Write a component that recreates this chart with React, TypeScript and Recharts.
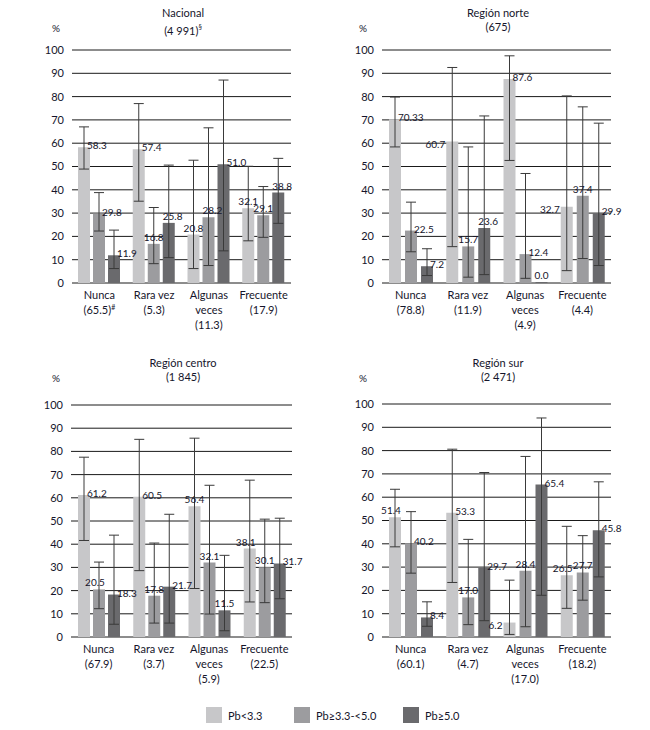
import { BarChart, Bar, XAxis, YAxis, CartesianGrid, ErrorBar, LabelList } from 'recharts'

const SERIES = ['Pb<3.3', 'Pb≥3.3-<5.0', 'Pb≥5.0']
const CATEGORIES = ['Nunca', 'Rara vez', 'Algunas veces', 'Frecuente']
const CATEGORY_LINES = [['Nunca'], ['Rara vez'], ['Algunas', 'veces'], ['Frecuente']]
const Y_TICKS = [0, 10, 20, 30, 40, 50, 60, 70, 80, 90, 100]

// Nacional (4 991)
const NACIONAL_SHARE = ['65.5', '5.3', '11.3', '17.9']
const NACIONAL_VALUES = [
  [58.3, 57.4, 20.8, 32.1],
  [29.8, 16.8, 28.2, 29.1],
  [11.9, 25.8, 51.0, 38.8],
]
const NACIONAL_CI_LOW = [
  [48.9, 35.1, 6.2, 18.1],
  [22.3, 8.3, 7.5, 19.6],
  [6.2, 10.9, 13.8, 25.6],
]
const NACIONAL_CI_HIGH = [
  [67.0, 77.0, 52.7, 50.1],
  [38.8, 32.4, 66.6, 41.4],
  [22.7, 50.6, 87.1, 53.5],
]

// Región norte (675)
const NORTE_SHARE = ['78.8', '11.9', '4.9', '4.4']
const NORTE_VALUES = [
  [70.33, 60.7, 87.6, 32.7],
  [22.5, 15.7, 12.4, 37.4],
  [7.2, 23.6, 0.0, 29.9],
]
const NORTE_CI_LOW = [
  [58.4, 15.6, 52.6, 5.3],
  [13.4, 2.5, 2.0, 10.5],
  [3.2, 3.6, null, 7.5],
]
const NORTE_CI_HIGH = [
  [79.8, 92.5, 97.5, 80.3],
  [34.7, 58.4, 47.0, 75.6],
  [14.7, 71.7, null, 68.6],
]

// Región centro (1 845)
const CENTRO_SHARE = ['67.9', '3.7', '5.9', '22.5']
const CENTRO_VALUES = [
  [61.2, 60.5, 56.4, 38.1],
  [20.5, 17.8, 32.1, 30.1],
  [18.3, 21.7, 11.5, 31.7],
]
const CENTRO_CI_LOW = [
  [41.6, 28.6, 20.9, 15.1],
  [12.2, 6.0, 9.9, 14.8],
  [5.5, 6.0, 2.7, 16.5],
]
const CENTRO_CI_HIGH = [
  [77.5, 85.2, 85.7, 67.6],
  [32.3, 40.5, 65.4, 50.8],
  [43.9, 52.9, 35.2, 51.2],
]

// Región sur (2 471)
const SUR_SHARE = ['60.1', '4.7', '17.0', '18.2']
const SUR_VALUES = [
  [51.4, 53.3, 6.2, 26.5],
  [40.2, 17.0, 28.4, 27.7],
  [8.4, 29.7, 65.4, 45.8],
]
const SUR_CI_LOW = [
  [38.7, 23.4, 1.1, 12.3],
  [27.4, 5.3, 4.4, 15.8],
  [4.6, 7.0, 17.9, 25.8],
]
const SUR_CI_HIGH = [
  [63.4, 80.6, 24.4, 47.5],
  [53.8, 41.9, 77.5, 43.5],
  [15.1, 70.6, 94.0, 66.6],
]

// where each value label sits: c = above, k = above nudged left, s = above from left edge, r = right, l = left
const NACIONAL_LABEL_SIDE = [['r', 'r', 'c', 'c'], ['r', 'c', 's', 'c'], ['r', 's', 'r', 's']]
const NORTE_LABEL_SIDE = [['r', 'l', 'r', 'l'], ['r', 'c', 'r', 'c'], ['r', 's', 'c', 'r']]
const CENTRO_LABEL_SIDE = [['r', 'r', 'c', 'k'], ['k', 'c', 'c', 'c'], ['r', 'r', 'c', 'r']]
const SUR_LABEL_SIDE = [['k', 'r', 'l', 'k'], ['r', 'c', 'c', 'c'], ['r', 'r', 'r', 'r']]

const COLORS = ['#c7c7c9', '#9c9c9f', '#6a6a6d']
const TEXT = '#15152b'
const FONT = "Lato, 'Open Sans', sans-serif"

const fmt = (v: number) =>
  Math.abs(v * 10 - Math.round(v * 10)) < 1e-6 ? v.toFixed(1) : String(v)

function buildRows(values: number[][], low: (number | null)[][], high: (number | null)[][]) {
  return CATEGORIES.map((name, i) => {
    const row: Record<string, unknown> = { name }
    values.forEach((vals, s) => {
      const v = vals[i]
      row[`v${s}`] = v
      const lo = low[s][i]
      const hi = high[s][i]
      row[`e${s}`] = lo == null || hi == null ? null : [v - lo, hi - v]
    })
    return row
  })
}

function valueLabel(props: any, sides: string[]) {
  const { x, y, width, height, value, index } = props
  const side = sides[index] ?? 'c'
  const top = Math.min(y, y + (height ?? 0))
  const cx = x + width / 2
  let tx = cx
  let ty = top - 3
  let anchor: 'start' | 'middle' | 'end' = 'middle'
  if (side === 'k') {
    tx = cx - 4
  } else if (side === 'r') {
    tx = cx + 3
    ty = top + 2
    anchor = 'start'
  } else if (side === 's') {
    tx = x
    anchor = 'start'
  } else if (side === 'l') {
    tx = x - 1
    ty = top + 6
    anchor = 'end'
  }
  return (
    <text x={tx} y={ty} textAnchor={anchor} fontSize={10} fill={TEXT} fontFamily={FONT}>
      {fmt(Number(value))}
    </text>
  )
}

function CategoryTick(props: any) {
  const { x, y, payload, shares, note } = props
  const idx = payload.index
  const lines = CATEGORY_LINES[idx]
  return (
    <g>
      {lines.map((l: string, k: number) => (
        <text key={k} x={x} y={y + 8 + k * 15} textAnchor="middle" fontSize={11} fill={TEXT} fontFamily={FONT}>
          {l}
        </text>
      ))}
      <text x={x} y={y + 8 + lines.length * 15} textAnchor="middle" fontSize={11} fill={TEXT} fontFamily={FONT}>
        ({shares[idx]})
        {idx === 0 && note ? (
          <tspan fontSize={7} dy={-4}>
            {note}
          </tspan>
        ) : null}
      </text>
    </g>
  )
}

interface PanelProps {
  title: string
  n: string
  nNote?: string
  shareNote?: string
  shares: string[]
  values: number[][]
  low: (number | null)[][]
  high: (number | null)[][]
  sides: string[][]
  left: number
  top: number
  margin: { top: number; right: number; bottom: number; left: number }
  gap: number
  titleX: number
  pctX: number
}

function Panel(p: PanelProps) {
  const data = buildRows(p.values, p.low, p.high)
  return (
    <>
      <div
        style={{
          position: 'absolute',
          left: p.left + p.titleX - 100,
          top: p.top + 6,
          width: 200,
          textAlign: 'center',
          fontSize: 11,
          lineHeight: '14px',
          color: TEXT,
          fontFamily: FONT,
        }}
      >
        <div>{p.title}</div>
        <div>
          ({p.n})
          {p.nNote ? <sup style={{ fontSize: 7 }}>{p.nNote}</sup> : null}
        </div>
      </div>
      <div
        style={{
          position: 'absolute',
          left: p.left + p.pctX - 10,
          top: p.top + 22,
          width: 20,
          textAlign: 'center',
          fontSize: 10,
          color: TEXT,
          fontFamily: FONT,
        }}
      >
        %
      </div>
      <div style={{ position: 'absolute', left: p.left, top: p.top }}>
        <BarChart width={325} height={345} data={data} margin={p.margin} barGap={p.gap} barSize={12}>
          <CartesianGrid horizontal vertical={false} stroke="#1a1a1a" strokeOpacity={1} />
          <XAxis
            dataKey="name"
            axisLine={false}
            tickLine={false}
            height={50}
            interval={0}
            tick={(t: any) => <CategoryTick {...t} shares={p.shares} note={p.shareNote} />}
          />
          <YAxis
            domain={[0, 100]}
            ticks={Y_TICKS}
            axisLine={false}
            tickLine={false}
            width={50}
            tick={{ fontSize: 11, fill: TEXT, fontFamily: FONT }}
          />
          {SERIES.map((s, i) => (
            <Bar key={s} dataKey={`v${i}`} name={s} fill={COLORS[i]} minPointSize={1} isAnimationActive={false}>
              <ErrorBar dataKey={`e${i}`} width={5} stroke="#3a3a3a" strokeWidth={1} direction="y" />
              <LabelList dataKey={`v${i}`} content={(lp: any) => valueLabel(lp, p.sides[i])} />
            </Bar>
          ))}
        </BarChart>
      </div>
    </>
  )
}

export default function App() {
  return (
    <div style={{ position: 'absolute', left: 0, top: 0, width: 650, height: 730, background: '#fff' }}>
      <Panel
        title="Nacional"
        n="4 991"
        nNote="§"
        shareNote="#"
        shares={NACIONAL_SHARE}
        values={NACIONAL_VALUES}
        low={NACIONAL_CI_LOW}
        high={NACIONAL_CI_HIGH}
        sides={NACIONAL_LABEL_SIDE}
        left={0}
        top={0}
        margin={{ top: 50, right: 34, bottom: 12, left: 22 }}
        gap={3}
        titleX={183}
        pctX={56}
      />
      <Panel
        title="Región norte"
        n="675"
        shares={NORTE_SHARE}
        values={NORTE_VALUES}
        low={NORTE_CI_LOW}
        high={NORTE_CI_HIGH}
        sides={NORTE_LABEL_SIDE}
        left={325}
        top={0}
        margin={{ top: 50, right: 39, bottom: 12, left: 7 }}
        gap={4}
        titleX={173}
        pctX={38}
      />
      <Panel
        title="Región centro"
        n="1 845"
        shares={CENTRO_SHARE}
        values={CENTRO_VALUES}
        low={CENTRO_CI_LOW}
        high={CENTRO_CI_HIGH}
        sides={CENTRO_LABEL_SIDE}
        left={0}
        top={350}
        margin={{ top: 55, right: 33, bottom: 8, left: 21 }}
        gap={3}
        titleX={183}
        pctX={56}
      />
      <Panel
        title="Región sur"
        n="2 471"
        shares={SUR_SHARE}
        values={SUR_VALUES}
        low={SUR_CI_LOW}
        high={SUR_CI_HIGH}
        sides={SUR_LABEL_SIDE}
        left={325}
        top={350}
        margin={{ top: 54, right: 39, bottom: 8, left: 7 }}
        gap={4}
        titleX={173}
        pctX={38}
      />
      {SERIES.map((s, i) => (
        <div
          key={s}
          style={{
            position: 'absolute',
            left: [206, 294, 403][i],
            top: 707,
            display: 'flex',
            alignItems: 'center',
            fontSize: 11,
            color: TEXT,
            fontFamily: FONT,
          }}
        >
          <span style={{ width: 16, height: 16, background: COLORS[i], display: 'inline-block', marginRight: 6 }} />
          {s}
        </div>
      ))}
    </div>
  )
}
